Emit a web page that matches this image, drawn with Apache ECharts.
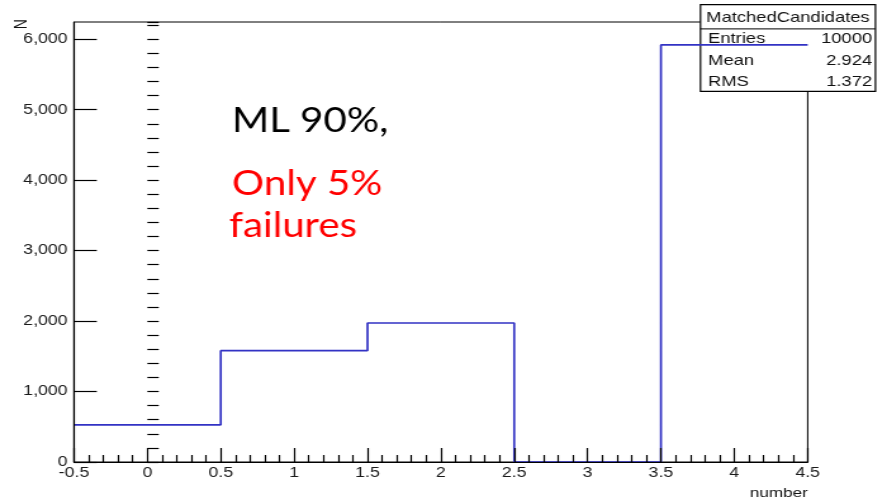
<!DOCTYPE html>
<html>
<head>
<meta charset="utf-8">
<title>MatchedCandidates</title>
<script src="https://cdn.jsdelivr.net/npm/echarts@6.0.0/dist/echarts.min.js"></script>
<style>
  html, body { margin: 0; padding: 0; background: #ffffff; overflow: hidden; }
  #stage { width: 887px; height: 500px; overflow: hidden; }
  /* ROOT canvas laid out at 700x500 and widened to fill the 887px page */
  #chart { width: 700px; height: 500px; transform-origin: 0 0; transform: scaleX(1.2671429); }
</style>
</head>
<body>
<div id="stage"><div id="chart"></div></div>
<script>
// Histogram bins: edges and entries per bin
const binEdges = [-0.5, 0.5, 1.5, 2.5, 3.5, 4.5];
const counts = [527, 1580, 1973, 0, 5920];
const yMax = 6245;

// Statistics box
const statsTitle = 'MatchedCandidates';
const statsLabels = ['Entries', 'Mean', 'RMS'];
const statsValues = ['10000', '2.924', '1.372'];

// Overlay note
const noteLines = ['ML 90%,', 'Only 5%', 'failures'];
const noteColors = ['#000000', '#ff0000', '#ff0000'];

const SX = 887 / 700;          // horizontal widening of the canvas
const AXIS_FONT = 'Liberation Sans, Arial, Helvetica, sans-serif';

// Outline of the histogram as a stepped line through the left bin edges
const stepData = counts.map((c, i) => [binEdges[i], c]);
stepData.push([binEdges[binEdges.length - 1], counts[counts.length - 1]]);

const grid = { left: 58.4, right: 62.6, top: 22, bottom: 38 };

const chart = echarts.init(document.getElementById('chart'), null, { renderer: 'canvas' });

const statsTop = 4, statsLeft = 550.3, statsW = 138.1, statsH = 86.7;
const rowY = [34.8, 56.8, 77];

const graphics = [
  {
    type: 'group', left: statsLeft, top: statsTop, z: 50,
    children: [
      { type: 'rect', shape: { x: 0, y: 0, width: statsW, height: statsH },
        style: { fill: '#ffffff', stroke: '#000000', lineWidth: 1.2 } },
      { type: 'line', shape: { x1: 0, y1: 24.3, x2: statsW, y2: 24.3 },
        style: { stroke: '#000000', lineWidth: 1 } },
      { type: 'text', x: statsW / 2, y: 13.5,
        style: { text: statsTitle, font: '14.5px ' + AXIS_FONT, fill: '#111',
                 align: 'center', verticalAlign: 'middle' } }
    ].concat(statsLabels.map((t, i) => ({
      type: 'text', x: 6, y: rowY[i],
      style: { text: t, font: '14.5px ' + AXIS_FONT, fill: '#111', align: 'left', verticalAlign: 'middle' }
    }))).concat(statsValues.map((t, i) => ({
      type: 'text', x: 135.5, y: rowY[i],
      style: { text: t, font: '14.5px ' + AXIS_FONT, fill: '#111', align: 'right', verticalAlign: 'middle' }
    })))
  }
];

// Note text is drawn unstretched
const noteX = [182.9, 183.1, 180.7];
const noteY = [120.5, 183.5, 225.5];
noteLines.forEach((t, i) => {
  graphics.push({
    type: 'text', x: noteX[i], y: noteY[i], scaleX: 1 / SX * 1.15, z: 60,
    style: { text: t, font: '35px Lato, "Open Sans", sans-serif', fill: noteColors[i],
             align: 'left', verticalAlign: 'middle' }
  });
});

const option = {
  animation: false,
  backgroundColor: '#ffffff',
  grid: Object.assign({ show: true, borderColor: '#000000', borderWidth: 1, backgroundColor: 'transparent',
                        outerBoundsMode: 'none', containLabel: false }, grid),
  xAxis: {
    type: 'value', min: binEdges[0], max: binEdges[binEdges.length - 1], interval: 0.5, z: 5,
    name: 'number', nameLocation: 'end', nameGap: 0,
    nameTextStyle: { fontFamily: AXIS_FONT, fontSize: 13.5, color: '#111', align: 'right',
                     verticalAlign: 'top', padding: [24, 0, 0, 0] },
    axisLine: { show: true, onZero: false, lineStyle: { color: '#000', width: 1.2 } },
    axisTick: { show: true, inside: true, length: 14, lineStyle: { color: '#000', width: 1.2 } },
    minorTick: { show: true, splitNumber: 5, length: 7, lineStyle: { color: '#000', width: 1.2 } },
    splitLine: { show: false },
    axisLabel: { fontFamily: AXIS_FONT, fontSize: 14, color: '#1a1a1a', margin: 4,
                 showMinLabel: true, showMaxLabel: true, hideOverlap: false }
  },
  yAxis: [
    {
      type: 'value', min: 0, max: yMax, interval: 1000, z: 5,
      name: 'N', nameLocation: 'end', nameGap: 0, nameRotate: 90,
      nameTextStyle: { fontFamily: AXIS_FONT, fontSize: 14, color: '#111', align: 'right',
                       verticalAlign: 'bottom', padding: [0, 0, 34, 0] },
      axisLine: { show: true, onZero: false, lineStyle: { color: '#000', width: 1.2 } },
      axisTick: { show: true, inside: true, length: 18, lineStyle: { color: '#000', width: 1.2 } },
      splitLine: { show: false },
      axisLabel: { fontFamily: AXIS_FONT, fontSize: 14, color: '#1a1a1a', margin: 5,
                   showMaxLabel: false, hideOverlap: false }
    },
    {
      // secondary divisions every 200 entries
      type: 'value', min: 0, max: yMax, interval: 200, position: 'left', z: 5,
      axisLine: { show: false },
      axisTick: { show: true, inside: true, length: 9, lineStyle: { color: '#000', width: 1.2 } },
      axisLabel: { show: false },
      splitLine: { show: false }
    }
  ],
  series: [
    {
      type: 'line', step: 'end', data: stepData, xAxisIndex: 0, yAxisIndex: 0,
      symbol: 'none', z: 2,
      lineStyle: { color: '#3232c4', width: 1.7 }
    }
  ],
  graphic: graphics
};

chart.setOption(option);
</script>
</body>
</html>
